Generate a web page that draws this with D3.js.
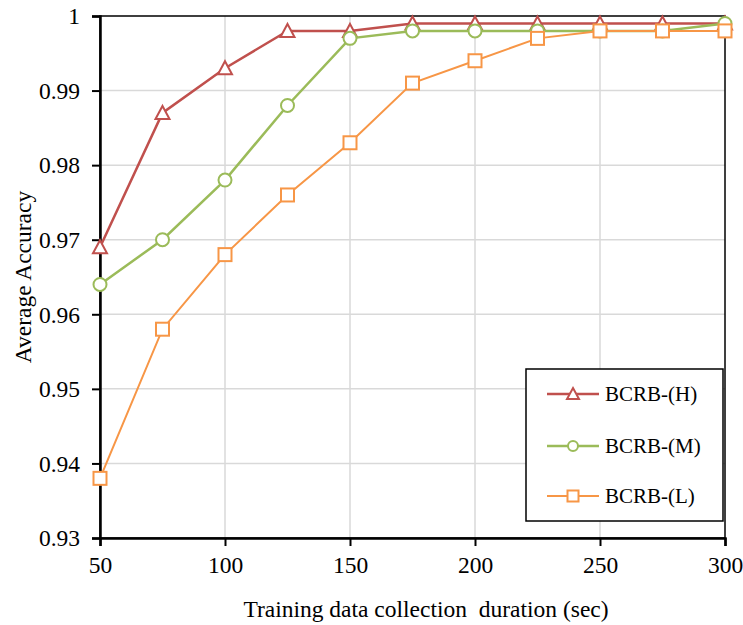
<!DOCTYPE html>
<html><head><meta charset="utf-8">
<script src="https://cdn.jsdelivr.net/npm/d3@7"></script>
<style>body{margin:0;background:#fff}svg{display:block}text{font-family:"Liberation Serif","Times New Roman",serif;fill:#000}</style>
</head><body>
<svg id="c" width="743" height="625"></svg>
<script>
const xValues = [50,75,100,125,150,175,200,225,250,275,300];
const seriesH = [0.969,0.987,0.993,0.998,0.998,0.999,0.999,0.999,0.999,0.999,0.999];
const seriesM = [0.964,0.970,0.978,0.988,0.997,0.998,0.998,0.998,0.998,0.998,0.999];
const seriesL = [0.938,0.958,0.968,0.976,0.983,0.991,0.994,0.997,0.998,0.998,0.998];
const seriesNames = ["BCRB-(H)","BCRB-(M)","BCRB-(L)"];
const xTicks = [50,100,150,200,250,300];
const yTicks = [0.93,0.94,0.95,0.96,0.97,0.98,0.99,1];

const svg = d3.select("#c");
const L=100,R=725,T=16,B=538;
const x = d3.scaleLinear().domain([50,300]).range([L,R]);
const y = d3.scaleLinear().domain([0.93,1]).range([B,T]);

// grid
svg.append("g").selectAll("line").data(xTicks.slice(1,-1)).join("line")
  .attr("x1",d=>x(d)).attr("x2",d=>x(d)).attr("y1",T).attr("y2",B)
  .attr("stroke","#d9d9d9").attr("stroke-width",1.5);
svg.append("g").selectAll("line").data(yTicks.slice(1,-1)).join("line")
  .attr("y1",d=>y(d)).attr("y2",d=>y(d)).attr("x1",L).attr("x2",R)
  .attr("stroke","#d9d9d9").attr("stroke-width",1.5);

// frame
svg.append("rect").attr("x",L).attr("y",T).attr("width",R-L).attr("height",B-T)
  .attr("fill","none").attr("stroke","#000").attr("stroke-width",1.5);

// axes
const xAxis = svg.append("g").attr("transform",`translate(0,${B})`)
  .call(d3.axisBottom(x).tickValues(xTicks).tickSize(8).tickFormat(d3.format("d")));
const yAxis = svg.append("g").attr("transform",`translate(${L},0)`)
  .call(d3.axisLeft(y).tickValues(yTicks).tickSize(8).tickFormat(d=>d===1?"1":d3.format(".2f")(d)));
[xAxis,yAxis].forEach(a=>{
  a.attr("font-family",null).attr("font-size",null);
  a.select(".domain").attr("stroke","#000").attr("stroke-width",2.5);
  a.selectAll(".tick line").attr("stroke","#000").attr("stroke-width",2);
  a.selectAll(".tick text").style("font-family",'"Liberation Serif",serif').style("font-size","23.5px").attr("fill","#000");
});
xAxis.selectAll(".tick text").attr("y",35).attr("dy",0);
yAxis.selectAll(".tick text").attr("x",-20).attr("dy","0.33em");

const colors = ["#C0504D","#9BBB59","#F79646"];
const data = [seriesH,seriesM,seriesL];
const shapes = ["tri","circ","sq"];
const widths = [2.5,2.5,2];

function marker(g,shape,color,cx,cy){
  if(shape==="tri"){
    g.append("path").attr("d",`M${cx},${cy-7}L${cx+7},${cy+6}L${cx-7},${cy+6}Z`)
      .attr("fill","#fff").attr("stroke",color).attr("stroke-width",2);
  } else if(shape==="circ"){
    g.append("circle").attr("cx",cx).attr("cy",cy).attr("r",6.5)
      .attr("fill","#fff").attr("stroke",color).attr("stroke-width",2);
  } else {
    g.append("rect").attr("x",cx-6.5).attr("y",cy-6.5).attr("width",13).attr("height",13)
      .attr("fill","#fff").attr("stroke",color).attr("stroke-width",2);
  }
}

const line = d3.line().x((d,i)=>x(xValues[i])).y(d=>y(d));
data.forEach((s,k)=>{
  const g = svg.append("g");
  g.append("path").attr("d",line(s)).attr("fill","none").attr("stroke",colors[k]).attr("stroke-width",widths[k]);
  s.forEach((v,i)=>marker(g,shapes[k],colors[k],x(xValues[i]),y(v)));
});

// legend
const lg = svg.append("g");
lg.append("rect").attr("x",526).attr("y",369).attr("width",197).attr("height",152)
  .attr("fill","#fff").attr("stroke","#000").attr("stroke-width",1.5);
const ly=[394,446,496];
seriesNames.forEach((n,k)=>{
  lg.append("line").attr("x1",547).attr("x2",599).attr("y1",ly[k]).attr("y2",ly[k])
    .attr("stroke",colors[k]).attr("stroke-width",widths[k]);
  const mg = lg.append("g");
  if(shapes[k]==="tri") mg.append("path").attr("d",`M573,${ly[k]-6}L579,${ly[k]+5}L567,${ly[k]+5}Z`).attr("fill","#fff").attr("stroke",colors[k]).attr("stroke-width",2);
  else if(shapes[k]==="circ") mg.append("circle").attr("cx",573).attr("cy",ly[k]).attr("r",5).attr("fill","#fff").attr("stroke",colors[k]).attr("stroke-width",2);
  else mg.append("rect").attr("x",567.5).attr("y",ly[k]-5.5).attr("width",11).attr("height",11).attr("fill","#fff").attr("stroke",colors[k]).attr("stroke-width",2);
  lg.append("text").attr("x",605).attr("y",ly[k]).attr("dy","0.33em").style("font-size","21px").text(n);
});

// titles
svg.append("text").attr("x",426).attr("y",617).attr("text-anchor","middle").style("font-size","23.5px")
  .style("white-space","pre").text("Training data collection  duration (sec)");
svg.append("text").attr("transform","translate(31,277) rotate(-90)").attr("text-anchor","middle").style("font-size","23.5px").text("Average Accuracy");
</script>
</body></html>
